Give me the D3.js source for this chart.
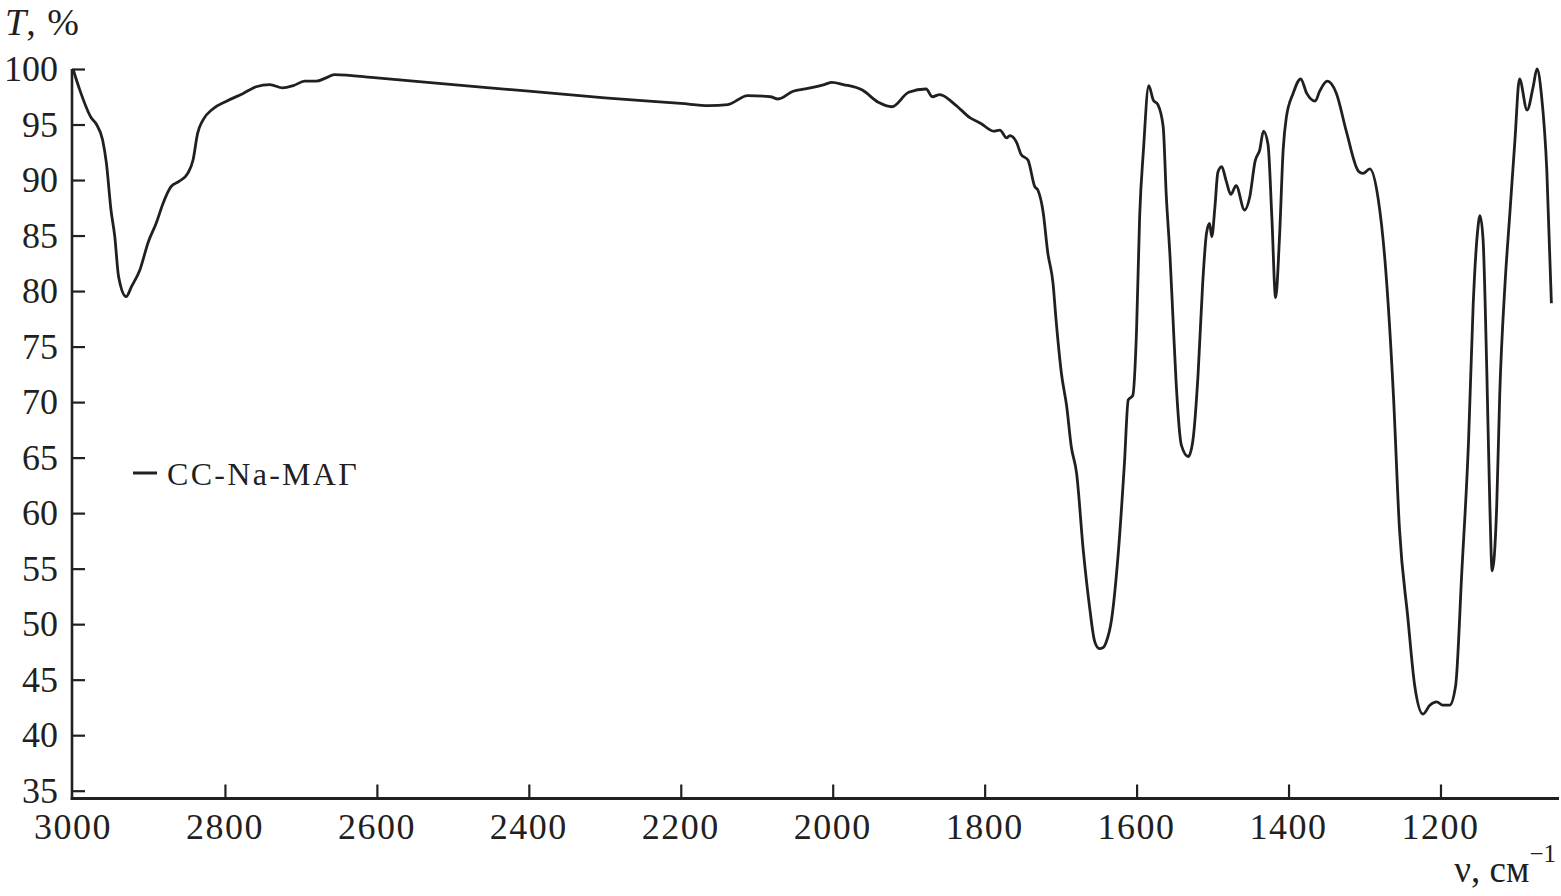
<!DOCTYPE html>
<html>
<head>
<meta charset="utf-8">
<script src="https://cdn.jsdelivr.net/npm/d3@7"></script>
<style>
  html, body { margin: 0; padding: 0; background: #fff; }
  svg { display: block; }
  text { font-family: "Liberation Serif", "Times New Roman", serif; fill: #231f20; }
</style>
</head>
<body>
<svg id="chart" width="1561" height="896"></svg>
<script>
// ---- data ----
const wavenumbers = [
  3000, 2991, 2976, 2969, 2961, 2956, 2950, 2945, 2940, 2930,
  2923, 2912, 2901, 2890, 2882, 2871, 2860, 2849, 2842, 2836,
  2829, 2816, 2798, 2776, 2759, 2741, 2724, 2710, 2695, 2680,
  2667, 2656, 2600, 2500, 2400, 2300, 2200, 2163, 2138, 2112,
  2082, 2072, 2052, 2036, 2011, 2001, 1986, 1961, 1940, 1922,
  1900, 1877, 1869, 1859, 1839, 1819, 1805, 1788, 1780, 1771,
  1767, 1758, 1752, 1743, 1734, 1730, 1723, 1717, 1710, 1706,
  1699, 1692, 1686, 1679, 1670, 1662, 1655, 1649, 1644, 1640,
  1633, 1624, 1616, 1611, 1605, 1600, 1596, 1591, 1584, 1578,
  1572, 1565, 1561, 1556, 1552, 1548, 1541, 1532, 1526, 1519,
  1513, 1508, 1504, 1501, 1497, 1493, 1488, 1482, 1476, 1469,
  1458, 1451, 1444, 1438, 1433, 1427, 1422, 1417, 1412, 1407,
  1403, 1394, 1384, 1376, 1365, 1359, 1349, 1337, 1324, 1308,
  1302, 1293, 1282, 1273, 1262, 1254, 1243, 1234, 1223, 1214,
  1205, 1197, 1188, 1180, 1172, 1163, 1157, 1151, 1148, 1144,
  1139, 1135, 1132, 1126, 1122, 1115, 1109, 1102, 1096, 1086,
  1078, 1073, 1067, 1060, 1054
];
const transmittance = [
  100.0, 98.1, 95.6, 95.0, 93.6, 91.5, 87.3, 84.9, 81.3, 79.5,
  80.4, 81.9, 84.4, 86.2, 87.8, 89.4, 89.9, 90.6, 91.8, 94.2,
  95.4, 96.4, 97.1, 97.8, 98.4, 98.6, 98.3, 98.5, 98.9, 98.9,
  99.2, 99.5, 99.2, 98.6, 98.0, 97.4, 96.9, 96.7, 96.8, 97.6,
  97.5, 97.3, 98.0, 98.2, 98.6, 98.8, 98.6, 98.1, 97.0, 96.6,
  97.9, 98.2, 97.5, 97.7, 96.8, 95.6, 95.1, 94.4, 94.5, 93.8,
  94.0, 93.4, 92.3, 91.8, 89.4, 89.1, 87.1, 83.5, 80.7, 77.4,
  72.6, 69.6, 66.0, 63.6, 56.5, 51.6, 48.4, 47.8, 47.9, 48.4,
  50.4, 56.5, 64.5, 70.2, 70.6, 76.6, 86.7, 92.7, 98.5, 97.2,
  96.8, 94.8, 88.7, 83.1, 77.4, 71.8, 66.1, 65.1, 66.5, 72.6,
  80.7, 85.2, 86.1, 84.9, 87.5, 90.7, 91.2, 89.9, 88.7, 89.5,
  87.3, 88.5, 91.7, 92.7, 94.4, 93.2, 86.7, 79.4, 84.7, 92.8,
  95.6, 97.8, 99.1, 97.8, 97.1, 98.0, 98.9, 97.8, 94.4, 90.8,
  90.6, 91.0, 88.3, 82.7, 70.7, 58.6, 50.6, 44.5, 41.9, 42.7,
  43.0, 42.7, 42.7, 44.5, 54.6, 66.6, 78.7, 85.5, 86.8, 84.7,
  72.7, 60.6, 54.8, 60.6, 70.7, 80.7, 86.7, 93.6, 99.1, 96.3,
  98.4, 100.0, 97.6, 90.8, 78.9
];
const xTicks = [3000, 2800, 2600, 2400, 2200, 2000, 1800, 1600, 1400, 1200];
const yTicks = [35, 40, 45, 50, 55, 60, 65, 70, 75, 80, 85, 90, 95, 100];
const seriesName = "СС-Na-МАГ";

// ---- layout ----
const svg = d3.select("#chart");
const axisX0 = 72, axisX1 = 1559, axisY = 798.5, axisTop = 69;
const ink = "#231f20";

const x = d3.scaleLinear().domain([3000, 1044]).range([73, 1559]);
const y = d3.scaleLinear().domain([35, 100]).range([790.7, 69]);

// y axis
svg.append("line")
  .attr("x1", axisX0).attr("x2", axisX0)
  .attr("y1", axisTop).attr("y2", axisY + 1.5)
  .attr("stroke", ink).attr("stroke-width", 2.6);
const yAx = svg.append("g").attr("transform", `translate(${axisX0},0)`)
  .call(d3.axisRight(y).tickValues(yTicks).tickSize(13).tickFormat(() => ""));
yAx.select(".domain").remove();
yAx.selectAll(".tick line").attr("stroke", ink).attr("stroke-width", 2.2);
svg.append("g").selectAll("text").data(yTicks).join("text")
  .attr("x", 58).attr("y", d => y(d) + 12)
  .attr("text-anchor", "end")
  .style("font-size", "36px")
  .text(d => d);

// x axis
svg.append("line")
  .attr("x1", axisX0 - 1.3).attr("x2", axisX1)
  .attr("y1", axisY).attr("y2", axisY)
  .attr("stroke", ink).attr("stroke-width", 2.8);
const xAx = svg.append("g").attr("transform", `translate(0,${axisY})`)
  .call(d3.axisTop(x).tickValues(xTicks.filter(d => d !== 3000)).tickSize(14).tickFormat(() => ""));
xAx.select(".domain").remove();
xAx.selectAll(".tick line").attr("stroke", ink).attr("stroke-width", 2.2);
svg.append("g").selectAll("text").data(xTicks).join("text")
  .attr("x", d => x(d)).attr("y", 839)
  .attr("text-anchor", "middle")
  .style("font-size", "36px")
  .style("letter-spacing", "1.5px")
  .text(d => d);

// axis titles
const yt = svg.append("text").attr("x", 5).attr("y", 35).style("font-size", "38px");
yt.append("tspan").style("font-style", "italic").text("T");
yt.append("tspan").style("letter-spacing", "1px").text(", %");

const xt = svg.append("text").attr("x", 1556).attr("y", 882)
  .attr("text-anchor", "end").style("font-size", "37px");
xt.append("tspan").text("ν, см");
xt.append("tspan").attr("dy", -20).style("font-size", "25px").text("−1");

// series line
const line = d3.line()
  .x((d, i) => x(wavenumbers[i]))
  .y((d, i) => y(transmittance[i]))
  .curve(d3.curveMonotoneX);
svg.append("path")
  .datum(wavenumbers)
  .attr("d", line)
  .attr("fill", "none")
  .attr("stroke", ink)
  .attr("stroke-width", 2.8)
  .attr("stroke-linejoin", "round");

// legend
svg.append("line")
  .attr("x1", 133).attr("x2", 157).attr("y1", 473).attr("y2", 473)
  .attr("stroke", ink).attr("stroke-width", 3);
svg.append("text")
  .attr("x", 167).attr("y", 485)
  .style("font-size", "32px")
  .style("letter-spacing", "2.3px")
  .text(seriesName);
</script>
</body>
</html>
